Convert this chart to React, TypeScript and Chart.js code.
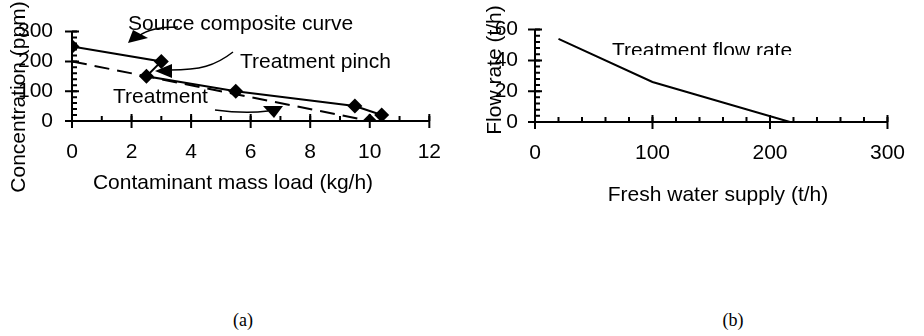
import React, { useEffect, useRef } from "react";
import { Chart, registerables } from "chart.js";

Chart.register(...registerables);

// ---------- data (left panel a) ----------
const sourceLoad = [0, 3, 2.5, 5.5, 9.5, 10.4];
const sourceConc = [250, 200, 150, 100, 50, 20];
const treatLoad = [0, 10];
const treatConc = [200, 0];

// ---------- data (right panel b) ----------
const freshSupply = [20, 100, 217];
const treatFlow = [54, 26, 0];

// ---------- axes ----------
const aXTicks = [0, 2, 4, 6, 8, 10, 12];
const aYTicks = [0, 100, 200, 300];
const bXTicks = [0, 100, 200, 300];
const bYTicks = [0, 20, 40, 60];

const FONT = "'Liberation Sans', Arial, Helvetica, sans-serif";
const FS = 21;

type Txt = { text: string; x: number; y: number; clipBottom?: number };

function makePlugin(cfg: {
  xMinor: number;
  yMinor: number;
  xTicks: number[];
  yTicks: number[];
  yTitle: { text: string; x: number; y: number };
  xTitle: { text: string; x: number; y: number };
  texts: Txt[];
  arrows: (ctx: CanvasRenderingContext2D) => void;
}) {
  return {
    id: "customAxes",
    afterDraw(chart: any) {
      const { ctx, scales } = chart;
      const xs = scales.x;
      const ys = scales.y;
      const x0 = xs.getPixelForValue(xs.min);
      const x1 = xs.getPixelForValue(xs.max);
      const y0 = ys.getPixelForValue(ys.min);
      const y1 = ys.getPixelForValue(ys.max);
      ctx.save();
      ctx.strokeStyle = "#000";
      ctx.fillStyle = "#000";
      ctx.lineWidth = 2;
      ctx.beginPath();
      ctx.moveTo(x0, y1);
      ctx.lineTo(x0, y0);
      ctx.lineTo(x1, y0);
      ctx.stroke();
      // major ticks
      ctx.beginPath();
      cfg.xTicks.forEach((v) => {
        const p = xs.getPixelForValue(v);
        ctx.moveTo(p, y0 - 7);
        ctx.lineTo(p, y0 + 7);
      });
      cfg.yTicks.forEach((v) => {
        const p = ys.getPixelForValue(v);
        ctx.moveTo(x0 - 7, p);
        ctx.lineTo(x0 + 7, p);
      });
      ctx.stroke();
      // minor ticks
      ctx.beginPath();
      for (let v = xs.min; v <= xs.max + 1e-9; v += cfg.xMinor) {
        const p = xs.getPixelForValue(v);
        ctx.moveTo(p, y0 - 5);
        ctx.lineTo(p, y0);
      }
      for (let v = ys.min; v <= ys.max + 1e-9; v += cfg.yMinor) {
        const p = ys.getPixelForValue(v);
        ctx.moveTo(x0, p);
        ctx.lineTo(x0 + 5, p);
      }
      ctx.stroke();
      // titles
      ctx.font = `${FS}px ${FONT}`;
      ctx.textAlign = "center";
      ctx.textBaseline = "middle";
      ctx.fillText(cfg.xTitle.text, cfg.xTitle.x, cfg.xTitle.y);
      ctx.save();
      ctx.translate(cfg.yTitle.x, cfg.yTitle.y);
      ctx.rotate(-Math.PI / 2);
      ctx.fillText(cfg.yTitle.text, 0, 0);
      ctx.restore();
      // annotation texts
      ctx.textAlign = "left";
      ctx.textBaseline = "alphabetic";
      cfg.texts.forEach((t) => {
        ctx.save();
        if (t.clipBottom !== undefined) {
          ctx.beginPath();
          ctx.rect(0, 0, chart.width, t.clipBottom);
          ctx.clip();
        }
        ctx.fillText(t.text, t.x, t.y);
        ctx.restore();
      });
      ctx.lineWidth = 1.5;
      cfg.arrows(ctx);
      ctx.restore();
    },
  };
}

function tri(ctx: CanvasRenderingContext2D, pts: number[][]) {
  ctx.beginPath();
  ctx.moveTo(pts[0][0], pts[0][1]);
  ctx.lineTo(pts[1][0], pts[1][1]);
  ctx.lineTo(pts[2][0], pts[2][1]);
  ctx.closePath();
  ctx.fill();
}

const tickFont = { family: FONT, size: FS };

function baseScales(xMin: number, xMax: number, xStep: number, yMin: number, yMax: number, yStep: number, yW: number, xH: number, yPad: number) {
  return {
    x: {
      type: "linear" as const,
      min: xMin,
      max: xMax,
      grid: { display: false, drawTicks: false },
      border: { display: false },
      ticks: { stepSize: xStep, color: "#000", font: tickFont, padding: 19, maxRotation: 0 },
      afterFit: (s: any) => {
        s.height = xH;
      },
    },
    y: {
      type: "linear" as const,
      min: yMin,
      max: yMax,
      grid: { display: false, drawTicks: false },
      border: { display: false },
      ticks: { stepSize: yStep, color: "#000", font: tickFont, padding: yPad },
      afterFit: (s: any) => {
        s.width = yW;
      },
    },
  };
}

export default function App() {
  const refA = useRef<HTMLCanvasElement>(null);
  const refB = useRef<HTMLCanvasElement>(null);

  useEffect(() => {
    const chartA = new Chart(refA.current!, {
      type: "line",
      data: {
        datasets: [
          {
            data: sourceLoad.map((x, i) => ({ x, y: sourceConc[i] })),
            borderColor: "#000",
            backgroundColor: "#000",
            borderWidth: 2,
            pointStyle: "rectRot",
            pointRadius: 7.5,
            pointBorderWidth: 0,
            fill: false,
          },
          {
            data: treatLoad.map((x, i) => ({ x, y: treatConc[i] })),
            borderColor: "#000",
            backgroundColor: "#000",
            borderWidth: 2,
            borderDash: [15, 8],
            pointStyle: "rectRot",
            pointRadius: [0, 7.5],
            pointBorderWidth: 0,
            fill: false,
          },
        ],
      },
      options: {
        animation: false,
        responsive: false,
        maintainAspectRatio: false,
        layout: { padding: { left: 0, top: 19, right: 26, bottom: 0 } },
        plugins: { legend: { display: false }, tooltip: { enabled: false } },
        scales: baseScales(0, 12, 2, 0, 300, 100, 72, 119, 19),
      },
      plugins: [
        makePlugin({
          xMinor: 1,
          yMinor: 20,
          xTicks: aXTicks,
          yTicks: aYTicks,
          yTitle: { text: "Concentration (ppm)", x: 19, y: 97 },
          xTitle: { text: "Contaminant mass load (kg/h)", x: 233, y: 183 },
          texts: [
            { text: "Source composite curve", x: 128, y: 30 },
            { text: "Treatment pinch", x: 240, y: 68 },
            { text: "Treatment", x: 113, y: 103 },
          ],
          arrows: (ctx) => {
            ctx.beginPath();
            ctx.moveTo(178, 27);
            ctx.quadraticCurveTo(150, 27, 139, 36);
            ctx.stroke();
            tri(ctx, [[128, 43], [133, 30], [148, 38]]);
            ctx.beginPath();
            ctx.moveTo(233, 52);
            ctx.bezierCurveTo(215, 66, 200, 70, 170, 70);
            ctx.stroke();
            tri(ctx, [[155, 71], [172, 64], [172, 78]]);
            ctx.beginPath();
            ctx.moveTo(215, 110);
            ctx.quadraticCurveTo(245, 114, 268, 111);
            ctx.stroke();
            tri(ctx, [[263, 106], [283, 106], [274, 118]]);
          },
        }),
      ],
    } as any);

    const chartB = new Chart(refB.current!, {
      type: "line",
      data: {
        datasets: [
          {
            data: freshSupply.map((x, i) => ({ x, y: treatFlow[i] })),
            borderColor: "#000",
            borderWidth: 2,
            pointRadius: 0,
            fill: false,
          },
        ],
      },
      options: {
        animation: false,
        responsive: false,
        maintainAspectRatio: false,
        layout: { padding: { left: 0, top: 19, right: 21, bottom: 0 } },
        plugins: { legend: { display: false }, tooltip: { enabled: false } },
        scales: baseScales(0, 300, 100, 0, 60, 20, 75, 118, 17),
      },
      plugins: [
        makePlugin({
          xMinor: 20,
          yMinor: 4,
          xTicks: bXTicks,
          yTicks: bYTicks,
          yTitle: { text: "Flow rate (t/h)", x: 35, y: 70 },
          xTitle: { text: "Fresh water supply (t/h)", x: 258, y: 195 },
          texts: [{ text: "Treatment flow rate", x: 152, y: 57, clipBottom: 55 }],
          arrows: () => {},
        }),
      ],
    } as any);

    return () => {
      chartA.destroy();
      chartB.destroy();
    };
  }, []);

  const lab: React.CSSProperties = {
    position: "absolute",
    top: 308,
    width: 60,
    textAlign: "center",
    font: "18px 'Liberation Serif', 'Times New Roman', serif",
    lineHeight: "24px",
    color: "#000",
  };

  return (
    <div style={{ position: "absolute", left: 0, top: 0, width: 924, height: 336, background: "#fff", overflow: "hidden" }}>
      <canvas ref={refA} width={460} height={240} style={{ position: "absolute", left: 0, top: 0, width: 460, height: 240 }} />
      <canvas ref={refB} width={464} height={240} style={{ position: "absolute", left: 460, top: 0, width: 464, height: 240 }} />
      <div style={{ ...lab, left: 213 }}>(a)</div>
      <div style={{ ...lab, left: 703 }}>(b)</div>
    </div>
  );
}
